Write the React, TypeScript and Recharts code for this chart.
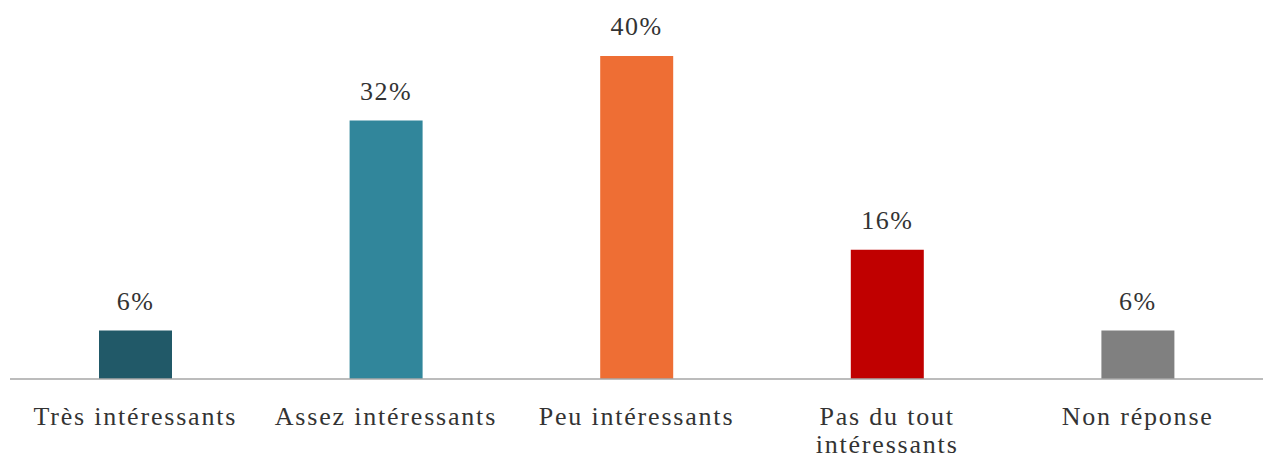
import { BarChart, Bar, XAxis, YAxis, Cell, LabelList } from "recharts";

const categories = [
  "Très intéressants",
  "Assez intéressants",
  "Peu intéressants",
  "Pas du tout\nintéressants",
  "Non réponse",
];
const values = [6, 32, 40, 16, 6];
const colors = ["#215968", "#31869b", "#ee6e34", "#c00000", "#808080"];

const FONT = "'Liberation Serif', 'DejaVu Serif', serif";

const data = categories.map((name, i) => ({ name, value: values[i] }));

function CategoryTick(props: any) {
  const { x, y, payload } = props;
  const lines = String(payload.value).split("\n");
  return (
    <g transform={`translate(${x},${y})`}>
      {lines.map((line: string, i: number) => (
        <text
          key={i}
          x={0}
          y={38 + i * 28}
          textAnchor="middle"
          fill="#333333"
          fontSize={26}
          letterSpacing={1.8}
          fontFamily={FONT}
        >
          {line}
        </text>
      ))}
    </g>
  );
}

export default function App() {
  return (
    <div style={{ position: "absolute", left: 0, top: 0, background: "#fff" }}>
      <BarChart
        width={1263}
        height={462}
        data={data}
        margin={{ top: 56, right: 0, bottom: 0, left: 10 }}
      >
        <XAxis
          dataKey="name"
          axisLine={{ stroke: "#a6a6a6", strokeWidth: 1.5 }}
          tickLine={false}
          tick={<CategoryTick />}
          height={83}
          interval={0}
        />
        <YAxis hide domain={[0, 40]} />
        <Bar dataKey="value" barSize={73} isAnimationActive={false}>
          {data.map((_, i) => (
            <Cell key={i} fill={colors[i]} />
          ))}
          <LabelList
            dataKey="value"
            position="top"
            offset={21}
            formatter={(v: any) => `${v}%`}
            fill="#333333"
            fontSize={26}
            letterSpacing={1.5}
            fontFamily={FONT}
          />
        </Bar>
      </BarChart>
    </div>
  );
}
